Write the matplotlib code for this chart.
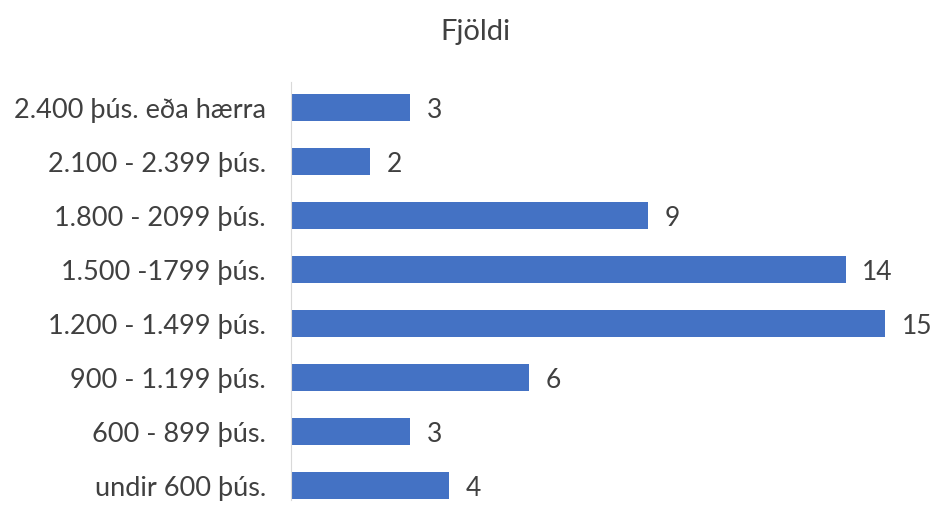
import matplotlib
matplotlib.use("Agg")
import matplotlib.pyplot as plt

# Gögn (neðst fyrst)
flokkar = ["undir 600 þús.", "600 - 899 þús.", "900 - 1.199 þús.", "1.200 - 1.499 þús.",
           "1.500 -1799 þús.", "1.800 - 2099 þús.", "2.100 - 2.399 þús.", "2.400 þús. eða hærra"]
fjoldi = [4, 3, 6, 15, 14, 9, 2, 3]

plt.rcParams['font.family'] = ['Lato', 'DejaVu Sans']
textalitur = "#404040"

fig = plt.figure(figsize=(9.33, 5.05), dpi=100)
W, H = 933, 505
ax = fig.add_axes([291 / W, (H - 500) / H, (905 - 291) / W, (500 - 82) / H])

y = range(len(flokkar))
bars = ax.barh(y, fjoldi, height=0.5, color="#4472C4")
for b, v in zip(bars, fjoldi):
    ax.text(b.get_width() + 0.42, b.get_y() + b.get_height() / 2 - 0.05, str(v),
            va="center", ha="left", fontsize=19, color=textalitur, clip_on=False)

ax.set_xlim(0, 15.5)
ax.set_ylim(-0.26, 7.48)
ax.set_yticks(list(y))
ax.set_yticklabels(flokkar, fontsize=19.5, color=textalitur)
ax.tick_params(axis="y", length=0, pad=18)
ax.set_xticks([])
for s in ["top", "right", "bottom"]:
    ax.spines[s].set_visible(False)
ax.spines["left"].set_color("#D9D9D9")

fig.text(475 / W, 1 - 32 / H, "Fjöldi", ha="center", va="center", fontsize=21, color=textalitur)

fig.savefig("out.png", dpi=100)
